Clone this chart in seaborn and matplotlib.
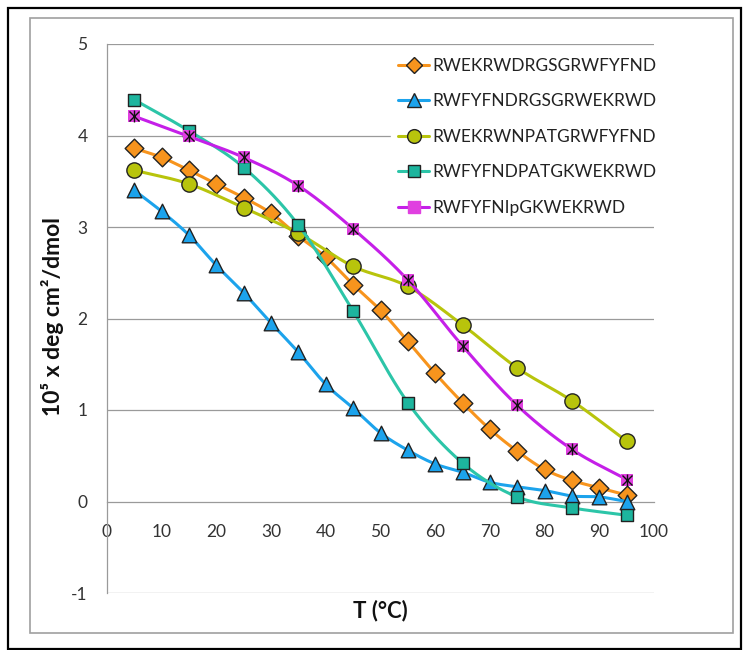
import numpy as np
import pandas as pd
import matplotlib
matplotlib.use("Agg")
import matplotlib.pyplot as plt
from matplotlib.lines import Line2D
from matplotlib.patches import Rectangle
import seaborn as sns

# ---- data ----
t_full = [5, 10, 15, 20, 25, 30, 35, 40, 45, 50, 55, 60, 65, 70, 75, 80, 85, 90, 95]
t_half = [5, 15, 25, 35, 45, 55, 65, 75, 85, 95]

s1_name = "RWEKRWDRGSGRWFYFND"
s1_vals = [3.86, 3.76, 3.62, 3.47, 3.32, 3.15, 2.90, 2.67, 2.37, 2.09, 1.75, 1.40, 1.08, 0.79,
           0.55, 0.35, 0.23, 0.15, 0.07]
s2_name = "RWFYFNDRGSGRWEKRWD"
s2_vals = [3.40, 3.17, 2.91, 2.58, 2.28, 1.95, 1.63, 1.28, 1.02, 0.75, 0.56, 0.41, 0.32, 0.21,
           0.16, 0.12, 0.06, 0.05, 0.00]
s3_name = "RWEKRWNPATGRWFYFND"
s3_vals = [3.62, 3.47, 3.21, 2.93, 2.57, 2.35, 1.93, 1.46, 1.10, 0.66]
s4_name = "RWFYFNDPATGKWEKRWD"
s4_vals = [4.39, 4.05, 3.65, 3.02, 2.08, 1.08, 0.42, 0.05, -0.07, -0.15]
s5_name = "RWFYFNIpGKWEKRWD"
s5_vals = [4.21, 3.99, 3.76, 3.45, 2.98, 2.42, 1.70, 1.05, 0.57, 0.24]

x_ticks = [0, 10, 20, 30, 40, 50, 60, 70, 80, 90, 100]
y_ticks = [-1, 0, 1, 2, 3, 4, 5]

series = [
    (s1_name, t_full, s1_vals, "#F7941D", "#F7941D", "D", 9.5),
    (s2_name, t_full, s2_vals, "#1CA3EC", "#1CA3EC", "^", 10.5),
    (s3_name, t_half, s3_vals, "#B8C40C", "#B8C40C", "o", 11),
    (s4_name, t_half, s4_vals, "#2CC5A8", "#1DB59E", "s", 9),
    (s5_name, t_half, s5_vals, "#C51FE8", "#E040E0", "star", 10),
]


def catmull_rom(x, y, n=20):
    x = np.asarray(x, float)
    y = np.asarray(y, float)
    px = np.concatenate([[2 * x[0] - x[1]], x, [2 * x[-1] - x[-2]]])
    py = np.concatenate([[2 * y[0] - y[1]], y, [2 * y[-1] - y[-2]]])
    xs, ys = [], []
    for i in range(1, len(px) - 2):
        p0x, p1x, p2x, p3x = px[i - 1:i + 3]
        p0y, p1y, p2y, p3y = py[i - 1:i + 3]
        c1x, c1y = p1x + (p2x - p0x) / 6, p1y + (p2y - p0y) / 6
        c2x, c2y = p2x - (p3x - p1x) / 6, p2y - (p3y - p1y) / 6
        tt = np.linspace(0, 1, n, endpoint=(i == len(px) - 3))
        b0 = (1 - tt) ** 3
        b1 = 3 * (1 - tt) ** 2 * tt
        b2 = 3 * (1 - tt) * tt ** 2
        b3 = tt ** 3
        xs.append(b0 * p1x + b1 * c1x + b2 * c2x + b3 * p2x)
        ys.append(b0 * p1y + b1 * c1y + b2 * c2y + b3 * p2y)
    return np.concatenate(xs), np.concatenate(ys)


sns.set_style("white")
plt.rcParams["font.family"] = ["Lato", "DejaVu Sans"]
plt.rcParams["axes.unicode_minus"] = False

fig = plt.figure(figsize=(7.47, 6.5), dpi=100)
fig.patches.append(Rectangle((8 / 747, 1 - 649 / 650), 733 / 747, 641 / 650,
                             transform=fig.transFigure, fill=False,
                             edgecolor="black", linewidth=1.6, zorder=0))
fig.patches.append(Rectangle((30 / 747, 1 - 633 / 650), 703 / 747, 615 / 650,
                             transform=fig.transFigure, fill=False,
                             edgecolor="#A0A0A0", linewidth=1.2, zorder=0))

ax = fig.add_axes([107 / 747, 1 - 593 / 650, 547 / 747, 549 / 650])
ax.set_xlim(0, 100)
ax.set_ylim(-1, 5)

for yv in y_ticks:
    if yv != 0:
        ax.axhline(yv, color="#9A9A9A", linewidth=0.9, zorder=0)

for k, (name, xs, ys, lc, fc, mk, ms) in enumerate(series):
    cx, cy = catmull_rom(xs, ys)
    curve = pd.DataFrame({"T": cx, "v": cy})
    sns.lineplot(data=curve, x="T", y="v", ax=ax, color=lc, linewidth=2.2,
                 sort=False, estimator=None, zorder=3 + 2 * k)
    pts = pd.DataFrame({"T": xs, "v": ys})
    if mk == "star":
        sns.scatterplot(data=pts, x="T", y="v", ax=ax, marker="s", s=(ms * 0.9) ** 2,
                        color=fc, edgecolor=fc, linewidth=0, zorder=4 + 2 * k)
        ax.plot(xs, ys, linestyle="none", marker="x", markersize=ms * 0.75,
                markeredgecolor="#111111", markeredgewidth=1.0, zorder=4.5 + 2 * k)
        ax.plot(xs, ys, linestyle="none", marker="|", markersize=ms * 0.9,
                markeredgecolor="#111111", markeredgewidth=1.0, zorder=4.5 + 2 * k)
    else:
        sns.scatterplot(data=pts, x="T", y="v", ax=ax, marker=mk, s=ms ** 2,
                        color=fc, edgecolor="#222222", linewidth=1.0, zorder=4 + 2 * k)

ax.set_xticks(x_ticks)
ax.set_yticks(y_ticks)
ax.spines["top"].set_visible(False)
ax.spines["right"].set_visible(False)
ax.spines["bottom"].set_position(("data", 0))
for sp in ("left", "bottom"):
    ax.spines[sp].set_color("#9A9A9A")
    ax.spines[sp].set_linewidth(0.9)
ax.tick_params(axis="x", direction="out", length=5, width=0.9, color="#9A9A9A",
               labelsize=12.5, labelcolor="#333333", pad=11)
ax.tick_params(axis="y", direction="out", length=5, width=0.9, color="#9A9A9A",
               labelsize=12.5, labelcolor="#333333", pad=9)

ax.set_xlabel("")
ax.set_ylabel("")
fig.text(380 / 747, 1 - 611 / 650, "T (°C)", ha="center", va="center",
         fontsize=16, fontweight="bold", color="#111111")
fig.text(53 / 747, 1 - 317 / 650, "10⁵ x deg cm²/dmol", ha="center", va="center",
         rotation=90, fontsize=16.5, fontweight="bold", color="#111111")

handles = []
for name, xs, ys, lc, fc, mk, ms in series:
    if mk == "star":
        h = Line2D([0], [0], color=lc, linewidth=2.2, marker="s", markersize=ms * 0.9,
                   markerfacecolor=fc, markeredgecolor=fc)
    else:
        h = Line2D([0], [0], color=lc, linewidth=2.2, marker=mk, markersize=ms * 0.9,
                   markerfacecolor=fc, markeredgecolor="#222222", markeredgewidth=1.0)
    handles.append(h)
leg = ax.legend(handles, [s[0] for s in series], loc="upper left",
                bbox_to_anchor=(284 / 547, 1 - 7 / 549), frameon=True, fontsize=12.5,
                labelspacing=1.12, handlelength=1.8, handletextpad=0.2,
                borderpad=0.4, borderaxespad=0)
leg.get_frame().set_edgecolor("white")
leg.get_frame().set_facecolor("white")
leg.get_frame().set_alpha(1)
leg.set_zorder(20)
for txt in leg.get_texts():
    txt.set_color("#222222")

fig.savefig("out.png", dpi=100)
